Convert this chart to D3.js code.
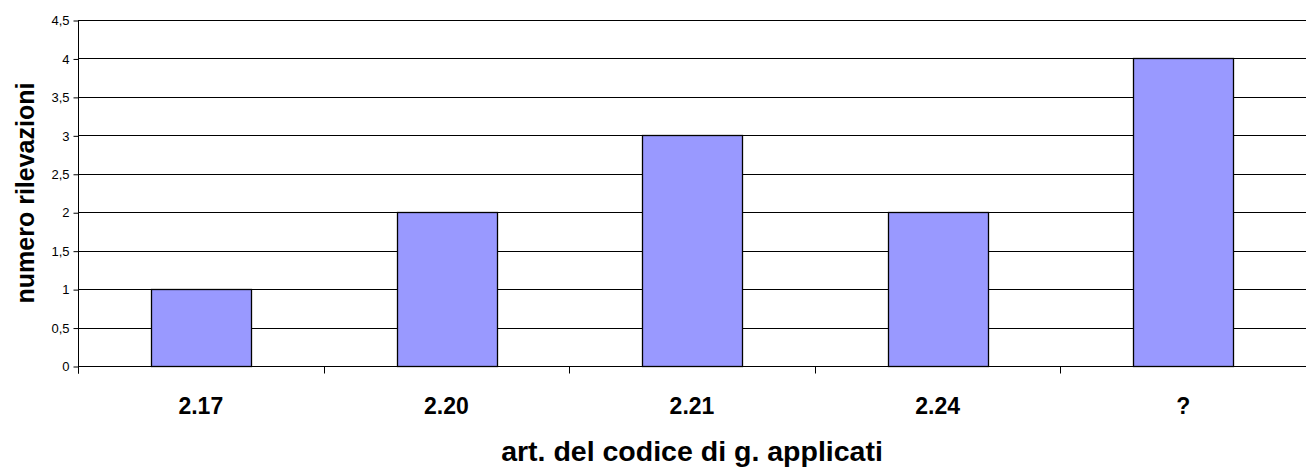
<!DOCTYPE html>
<html>
<head>
<meta charset="utf-8">
<script src="https://cdn.jsdelivr.net/npm/d3@7"></script>
<style>
  body { margin: 0; background: #fff; }
  svg { display: block; font-family: Arial, "Liberation Sans", sans-serif; }
</style>
</head>
<body>
<svg id="chart" width="1306" height="469"></svg>
<script>
const categories = ["2.17", "2.20", "2.21", "2.24", "?"];
const values = [1, 2, 3, 2, 4];
const yTicks = [0, 0.5, 1, 1.5, 2, 2.5, 3, 3.5, 4, 4.5];

const width = 1306;
const height = 469;
const margin = { top: 20, right: 0, bottom: 103, left: 78 };

const svg = d3.select('#chart');

const x = d3.scaleBand()
    .domain(categories)
    .range([margin.left, width - margin.right])
    .paddingInner(0.594)
    .paddingOuter(0.297);

const xTick = d3.scaleBand()
    .domain(categories)
    .range([margin.left, width - margin.right]);

const y = d3.scaleLinear()
    .domain([0, 4.5])
    .range([height - margin.bottom, margin.top]);

const fmt = d => String(d).replace('.', ',');

// gridlines
svg.append('g')
    .selectAll('line')
    .data(yTicks.filter(d => d > 0))
    .enter().append('line')
    .attr('x1', margin.left)
    .attr('x2', width)
    .attr('y1', d => Math.round(y(d)) + 0.5)
    .attr('y2', d => Math.round(y(d)) + 0.5)
    .style('stroke', '#000')
    .style('stroke-width', 1);

// bars
svg.append('g')
    .selectAll('rect')
    .data(values)
    .enter().append('rect')
    .attr('x', (d, i) => Math.round(x(categories[i])) + 0.5)
    .attr('y', d => Math.round(y(d)) + 0.5)
    .attr('width', Math.round(x.bandwidth()))
    .attr('height', d => Math.round(y(0)) - Math.round(y(d)))
    .style('fill', '#9999ff')
    .style('stroke', '#000')
    .style('stroke-width', 1.3);

// y axis
const yAxis = d3.axisLeft(y)
    .tickValues(yTicks)
    .tickSize(5)
    .tickPadding(4)
    .tickFormat(fmt);

const gy = svg.append('g')
    .attr('transform', `translate(${margin.left + 0.5},0.5)`)
    .call(yAxis);
gy.select('.domain').attr('d', `M0,${y(4.5)}V${y(0) + 7}`);
gy.selectAll('text').style('font-size', '13px').style('fill', '#000');

// x axis line and ticks
const gx = svg.append('g')
    .attr('transform', `translate(0,${Math.round(y(0)) + 0.5})`);
gx.append('line')
    .attr('x1', margin.left)
    .attr('x2', width)
    .style('stroke', '#000');
gx.selectAll('.tick')
    .data(categories)
    .enter().append('line')
    .attr('class', 'tick')
    .attr('x1', d => Math.round(xTick(d)) + 0.5)
    .attr('x2', d => Math.round(xTick(d)) + 0.5)
    .attr('y1', 0)
    .attr('y2', 7)
    .style('stroke', '#000');
gx.selectAll('.lbl')
    .data(categories)
    .enter().append('text')
    .attr('class', 'lbl')
    .attr('x', d => xTick(d) + xTick.bandwidth() / 2)
    .attr('y', 47)
    .attr('text-anchor', 'middle')
    .style('font-size', '23px')
    .style('font-weight', 'bold')
    .text(d => d);

// axis titles
svg.append('text')
    .attr('x', (margin.left + width) / 2)
    .attr('y', 461)
    .attr('text-anchor', 'middle')
    .style('font-size', '28.5px')
    .style('font-weight', 'bold')
    .text('art. del codice di g. applicati');

svg.append('text')
    .attr('transform', `translate(34,${(y(0) + y(4.5)) / 2}) rotate(-90)`)
    .attr('text-anchor', 'middle')
    .style('font-size', '25px')
    .style('font-weight', 'bold')
    .text('numero rilevazioni');
</script>
</body>
</html>
